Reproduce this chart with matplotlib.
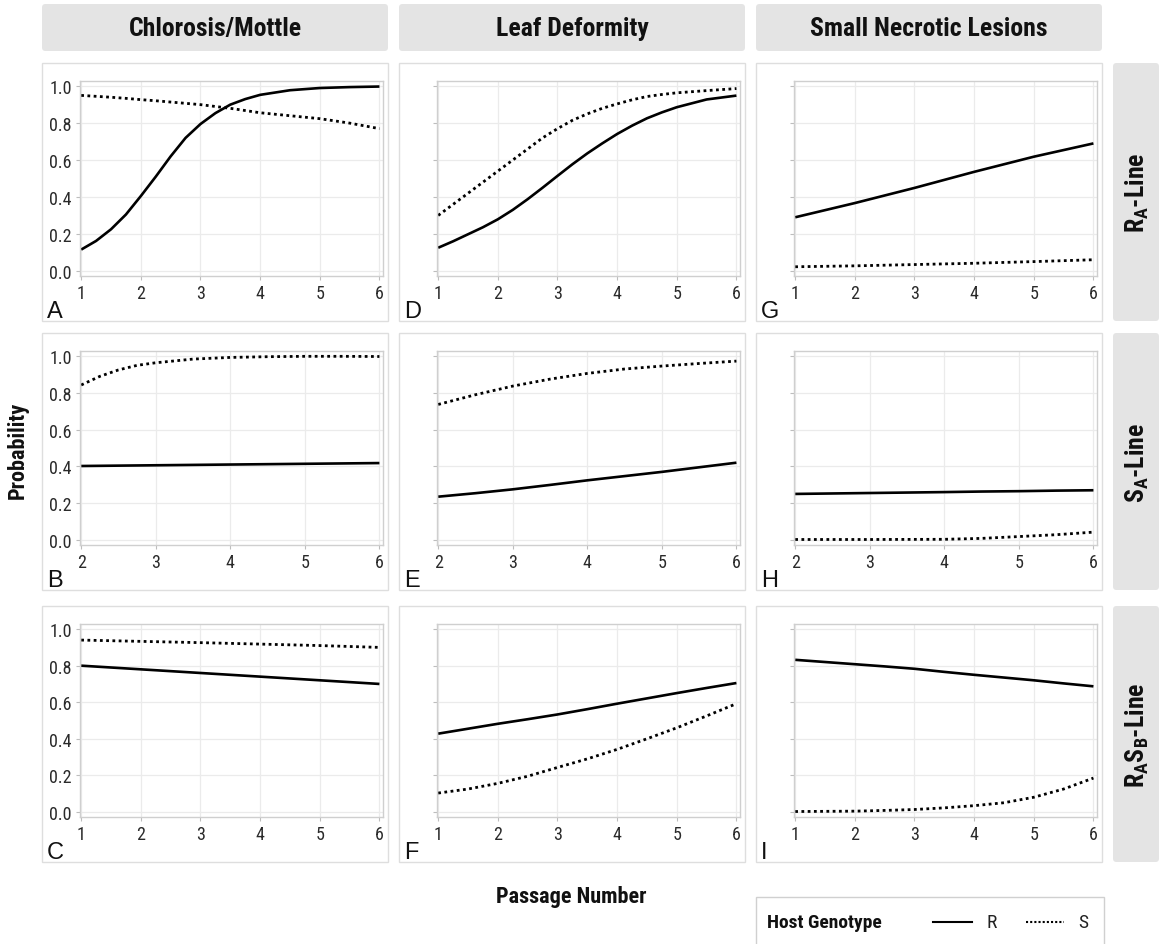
import matplotlib
matplotlib.use("Agg")
import matplotlib.pyplot as plt
from matplotlib.patches import Rectangle, FancyBboxPatch
from matplotlib.lines import Line2D

W, H = 1159, 945
plt.rcParams['font.family'] = ['Roboto Condensed', 'DejaVu Sans']
plt.rcParams['mathtext.fontset'] = 'custom'
plt.rcParams['mathtext.rm'] = 'Roboto Condensed'
plt.rcParams['mathtext.bf'] = 'Roboto Condensed:bold'

# ---------------- data ----------------
col_titles = ["Chlorosis/Mottle", "Leaf Deformity", "Small Necrotic Lesions"]
row_titles = [r"$\mathbf{R_A}$-Line", r"$\mathbf{S_A}$-Line", r"$\mathbf{R_AS_B}$-Line"]
panel_letters = [["A", "D", "G"], ["B", "E", "H"], ["C", "F", "I"]]
x_title = "Passage Number"
y_title = "Probability"
legend_title = "Host Genotype"
genotypes = ["R", "S"]

A_x = [1, 1.25, 1.5, 1.75, 2, 2.25, 2.5, 2.75, 3, 3.25, 3.5, 3.75, 4, 4.5, 5, 5.5, 6]
A_R = [0.115, 0.162, 0.225, 0.305, 0.405, 0.51, 0.62, 0.72, 0.795, 0.854, 0.90, 0.93,
       0.953, 0.978, 0.99, 0.995, 0.998]
A_S = [0.95, 0.945, 0.94, 0.934, 0.927, 0.921, 0.914, 0.907, 0.90, 0.89, 0.88, 0.868,
       0.856, 0.84, 0.824, 0.80, 0.77]

D_x = [1, 1.25, 1.5, 1.75, 2, 2.25, 2.5, 2.75, 3, 3.25, 3.5, 3.75, 4, 4.25, 4.5, 4.75, 5, 5.5, 6]
D_R = [0.125, 0.16, 0.198, 0.236, 0.279, 0.33, 0.388, 0.45, 0.514, 0.577, 0.636, 0.69,
       0.741, 0.786, 0.826, 0.858, 0.886, 0.928, 0.949]
D_S = [0.30, 0.36, 0.42, 0.48, 0.54, 0.60, 0.66, 0.72, 0.77, 0.815, 0.85, 0.88,
       0.904, 0.926, 0.944, 0.955, 0.964, 0.976, 0.987]

G_x = [1, 2, 3, 4, 5, 6]
G_R = [0.29, 0.367, 0.449, 0.536, 0.618, 0.69]
G_S = [0.022, 0.027, 0.034, 0.041, 0.05, 0.06]

B_x = [2, 2.25, 2.5, 2.75, 3, 3.5, 4, 4.5, 5, 5.5, 6]
B_R = [0.402, 0.403, 0.404, 0.405, 0.406, 0.408, 0.41, 0.412, 0.414, 0.416, 0.418]
B_S = [0.843, 0.89, 0.925, 0.95, 0.964, 0.984, 0.993, 0.997, 0.999, 0.999, 0.998]

E_x = [2, 2.5, 3, 3.5, 4, 4.5, 5, 5.5, 6]
E_R = [0.235, 0.254, 0.275, 0.299, 0.324, 0.347, 0.37, 0.395, 0.42]
E_S = [0.737, 0.79, 0.837, 0.875, 0.906, 0.93, 0.946, 0.96, 0.973]

H_x = [2, 3, 4, 4.5, 5, 5.5, 6]
H_R = [0.25, 0.255, 0.26, 0.263, 0.265, 0.268, 0.27]
H_S = [0.002, 0.002, 0.003, 0.008, 0.018, 0.028, 0.042]

C_x = [1, 2, 3, 4, 5, 6]
C_R = [0.80, 0.78, 0.76, 0.74, 0.72, 0.70]
C_S = [0.94, 0.933, 0.926, 0.918, 0.91, 0.90]

F_x = [1, 1.5, 2, 2.5, 3, 3.5, 4, 4.5, 5, 5.5, 6]
F_R = [0.428, 0.455, 0.482, 0.507, 0.533, 0.562, 0.592, 0.621, 0.65, 0.678, 0.705]
F_S = [0.103, 0.125, 0.156, 0.195, 0.243, 0.29, 0.342, 0.40, 0.46, 0.525, 0.592]

I_x = [1, 1.5, 2, 2.5, 3, 3.5, 4, 4.5, 5, 5.5, 6]
I_R = [0.832, 0.82, 0.808, 0.796, 0.783, 0.766, 0.75, 0.735, 0.72, 0.703, 0.687]
I_S = [0.002, 0.003, 0.004, 0.008, 0.013, 0.022, 0.034, 0.05, 0.08, 0.125, 0.185]

panels = [
    [(A_x, A_R, A_S), (D_x, D_R, D_S), (G_x, G_R, G_S)],
    [(B_x, B_R, B_S), (E_x, E_R, E_S), (H_x, H_R, H_S)],
    [(C_x, C_R, C_S), (F_x, F_R, F_S), (I_x, I_R, I_S)],
]
y_ticks = [0.0, 0.2, 0.4, 0.6, 0.8, 1.0]

# ---------------- layout (pixels) ----------------
col_box = [(42, 388), (399, 745), (756, 1102)]
row_box = [(64, 322), (334, 591), (607, 863)]
ax_dx = (38, 5)
ax_dy = (18, 45)

def fx(x):
    return x / W

def fy(y):
    return 1 - y / H

fig = plt.figure(figsize=(W / 100, H / 100), dpi=100)
fig.patch.set_facecolor('white')

grey_border = '#dedede'
strip_fill = '#e4e4e4'
dot_ls = (0, (1, 1.25))
title_color = '#111111'

def add_rect(x0, y0, x1, y1, **kw):
    r = Rectangle((fx(x0), fy(y1)), fx(x1) - fx(x0), fy(y0) - fy(y1),
                  transform=fig.transFigure, **kw)
    fig.add_artist(r)

def add_strip(x0, y0, x1, y1):
    r = FancyBboxPatch((fx(x0), fy(y1)), fx(x1) - fx(x0), fy(y0) - fy(y1),
                       boxstyle="round,pad=0,rounding_size=0.003",
                       transform=fig.transFigure, facecolor=strip_fill,
                       edgecolor='none', mutation_aspect=W / H)
    fig.add_artist(r)

for j, (x0, x1) in enumerate(col_box):
    add_strip(x0, 5, x1, 52)
    fig.text(fx((x0 + x1) / 2), fy(29), col_titles[j], ha='center', va='center',
             fontsize=18.5, fontweight='bold', color=title_color)

for i, (y0, y1) in enumerate(row_box):
    add_strip(1113, y0, 1159, y1)
    fig.text(fx(1137), fy((y0 + y1) / 2), row_titles[i], ha='center', va='center',
             rotation=90, fontsize=18.5, fontweight='bold', color=title_color)

for i, (y0, y1) in enumerate(row_box):
    for j, (x0, x1) in enumerate(col_box):
        add_rect(x0, y0, x1, y1, facecolor='none', edgecolor=grey_border, lw=1.0)
        ax_l, ax_r = x0 + ax_dx[0], x1 - ax_dx[1]
        ax_t, ax_b = y0 + ax_dy[0], y1 - ax_dy[1]
        ax = fig.add_axes([fx(ax_l), fy(ax_b), fx(ax_r) - fx(ax_l), fy(ax_t) - fy(ax_b)])
        px, pr, ps = panels[i][j]
        ax.plot(px, pr, color='black', lw=1.9, ls='-', solid_capstyle='butt',
                solid_joinstyle='round')
        ax.plot(px, ps, color='black', lw=2.0, ls=dot_ls, dash_capstyle='butt')
        xmin, xmax = min(px), max(px)
        span = xmax - xmin
        ax.set_xlim(xmin - 0.004 * span, xmax + 0.012 * span)
        ax.set_ylim(-0.028, 1.028)
        ax.set_xticks(list(range(int(xmin), int(xmax) + 1)))
        ax.set_yticks(y_ticks)
        ax.grid(True, color='#ebebeb', lw=0.9)
        ax.set_axisbelow(True)
        for s in ax.spines.values():
            s.set_color('#cfcfcf')
            s.set_linewidth(1.0)
        ax.tick_params(axis='both', length=3, width=0.8, color='#bdbdbd',
                       labelsize=13, labelcolor='#2a2a2a', pad=3)
        if j == 0:
            ax.set_yticklabels([f"{v:.1f}" for v in y_ticks])
        else:
            ax.set_yticklabels([])
        fig.text(fx(x0 + 5), fy(y1 - 4), panel_letters[i][j], ha='left', va='baseline',
                 fontsize=17, family=['Liberation Sans', 'DejaVu Sans'], color=title_color)

fig.text(fx(18), fy(450), y_title, rotation=90, ha='center', va='center',
         fontsize=16, fontweight='bold', color=title_color)
fig.text(fx(571), fy(897), x_title, ha='center', va='center',
         fontsize=16, fontweight='bold', color=title_color)

# legend
add_rect(756, 898, 1104, 960, facecolor='white', edgecolor='#d0d0d0', lw=1.0)
fig.text(fx(767), fy(923), legend_title, ha='left', va='center', fontsize=14,
         fontweight='bold', color=title_color)
fig.add_artist(Line2D([fx(933), fx(972)], [fy(923), fy(923)], transform=fig.transFigure,
                      color='black', lw=1.5, ls='-'))
fig.text(fx(987), fy(923), genotypes[0], ha='left', va='center', fontsize=14, color='#222222')
fig.add_artist(Line2D([fx(1026), fx(1064)], [fy(923), fy(923)], transform=fig.transFigure,
                      color='black', lw=1.5, ls=(0, (1, 1)), dash_capstyle='butt'))
fig.text(fx(1078), fy(923), genotypes[1], ha='left', va='center', fontsize=14, color='#222222')

fig.savefig("out.png", dpi=100, facecolor='white')
